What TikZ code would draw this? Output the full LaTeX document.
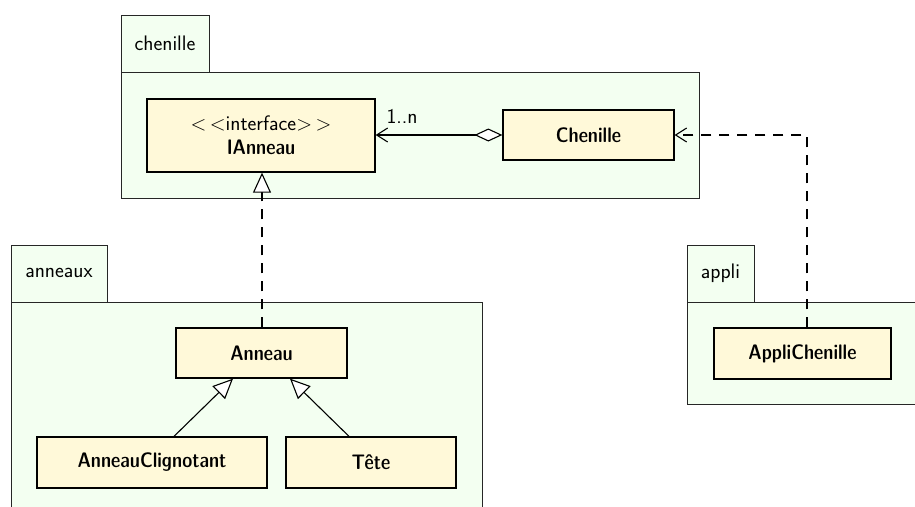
\documentclass[tikz,border=0pt]{standalone}
\usetikzlibrary{arrows.meta}
\definecolor{pkgfill}{HTML}{F3FFF1}
\definecolor{clsfill}{HTML}{FFF9D9}
\begin{document}
\begin{tikzpicture}[x=1pt,y=-1pt,
  font=\sffamily\fontsize{21}{24}\selectfont,
  pkg/.style={draw=black!85,fill=pkgfill,line width=1pt},
  cls/.style={draw=black,fill=clsfill,line width=1.3pt,inner sep=0pt,font=\sffamily\fontseries{sbc}\fontsize{21}{24}\selectfont},
  conn/.style={line width=1.1pt},
  dep/.style={conn,dash pattern=on 10pt off 8pt},
  navhead/.style={-{Straight Barb[length=11pt,width=14pt,line width=1.1pt]}},
  genhead/.style={-{Triangle[open,length=20pt,width=18pt,line width=1.1pt,fill=white]}},
  agghead/.style={{Diamond[open,length=28pt,width=13pt,line width=1.1pt,fill=white]}-{Straight Barb[length=11pt,width=14pt,line width=1.1pt]}}
]
\useasboundingbox (0,0) rectangle (915,506);
\fill[white] (0,0) rectangle (915,506);

% packages
\draw[pkg] (121,72) rectangle (699,198);
\draw[pkg] (121,15) rectangle (209,72);
\node (pchenille) at (165,43) {chenille};

\draw[pkg] (11,302) rectangle (482,520);
\draw[pkg] (11,245) rectangle (107,302);
\node (panneaux) at (59,273) {anneaux};

\draw[pkg] (687,302) rectangle (930,404);
\draw[pkg] (687,245) rectangle (754,302);
\node (pappli) at (720.5,273) {appli};

% classes
\node[cls,minimum width=228pt,minimum height=73pt,align=center] (IAnneau) at (261,135.5)
  {\mdseries$<$\,$<$interface$>$\,$>$\\IAnneau};
\node[cls,minimum width=171pt,minimum height=50pt] (Chenille) at (588.5,135) {Chenille};
\node[cls,minimum width=171pt,minimum height=50pt] (Anneau) at (261.5,353) {Anneau};
\node[cls,minimum width=230pt,minimum height=51pt] (AnneauClignotant) at (152,462.5) {AnneauClignotant};
\node[cls,minimum width=170pt,minimum height=51pt] (Tete) at (371,462.5) {Tête};
\node[cls,minimum width=177pt,minimum height=51pt] (AppliChenille) at (802.5,353.5) {AppliChenille};

% connectors
\draw[conn,agghead] (Chenille.west) -- (IAnneau.east |- Chenille.west);
\node (mult) at (402,116) {1..n};

\coordinate (bend) at (807,135);
\draw[dep,navhead] (AppliChenille.north -| bend) -- (bend) -- (Chenille.east);

\draw[dep,genhead] (Anneau.north -| 262,0) -- (IAnneau.south -| 262,0);

\draw[conn,genhead] (AnneauClignotant.north -| 174,0) -- (Anneau.south -| 233,0);
\draw[conn,genhead] (Tete.north -| 349,0) -- (Anneau.south -| 290,0);
\end{tikzpicture}
\end{document}
